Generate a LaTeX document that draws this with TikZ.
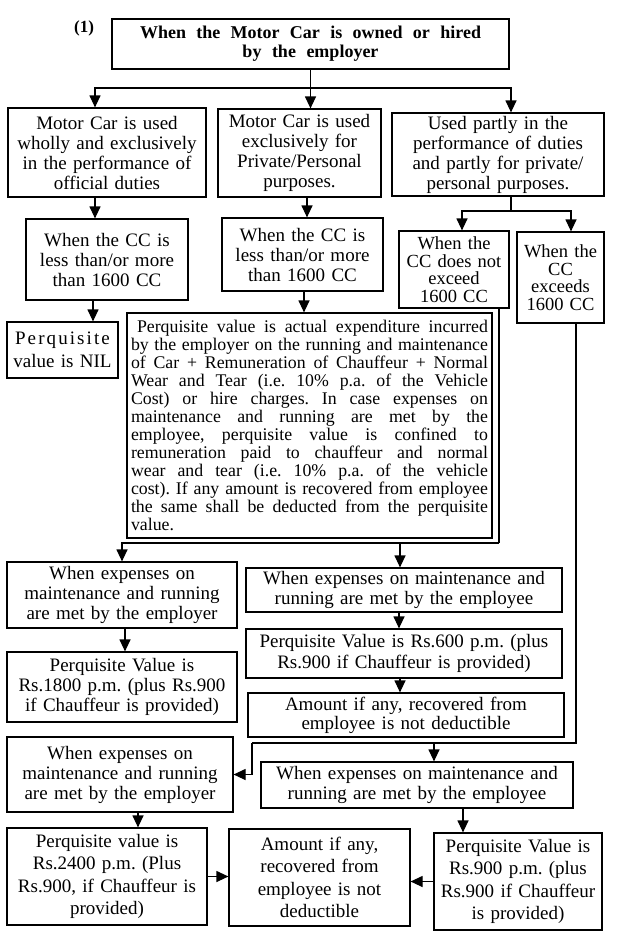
\documentclass[tikz,border=0pt]{standalone}
\usepackage{fontspec}
\setmainfont{Liberation Serif}
\usetikzlibrary{arrows.meta}
\frenchspacing
\begin{document}
\begin{tikzpicture}[x=1pt,y=-1pt,
  box/.style={draw, line width=1.2pt, align=center, inner sep=0pt, font=\frenchspacing\fontsize{19}{20}\selectfont},
  lead/.style={font=\frenchspacing\fontsize{19}{#1}\selectfont},
  arr/.style={line width=1.2pt, -{Triangle[length=12pt,width=11pt]}},
  ln/.style={line width=1.2pt}]
\useasboundingbox (0,0) rectangle (618,946);

\node[font=\bfseries\fontsize{17}{19}\selectfont] (num) at (84,28) {(1)};
\node[box, font=\bfseries\fontsize{18}{19}\selectfont, minimum width=397pt, minimum height=50pt, text width=389pt] (top) at (310.5,44)
  {\leavevmode\hbox to 341pt{When\hfill the\hfill Motor\hfill Car\hfill is\hfill owned\hfill or\hfill hired}\\
   \leavevmode\hbox to 136pt{by\hfill the\hfill employer}};

\node[box, minimum width=198pt, minimum height=89pt, text width=190pt] (l2a) at (107,152.5)
  {Motor Car is used\\wholly and exclusively\\in the performance of\\official duties};
\node[box, minimum width=163pt, minimum height=88pt, text width=155pt] (l2b) at (299.5,153)
  {Motor Car is used\\exclusively for\\Private/Personal\\purposes.};
\node[box, minimum width=212pt, minimum height=83pt, text width=204pt] (l2c) at (498,154.5)
  {Used partly in the\\performance of duties\\and partly for private/\\personal purposes.};

\node[box, minimum width=162pt, minimum height=81pt, text width=154pt] (l3a) at (107,259.5)
  {When the CC is\\less than/or more\\than 1600 CC};
\node[box, minimum width=161pt, minimum height=73pt, text width=153pt] (l3b) at (302.5,254.5)
  {When the CC is\\less than/or more\\than 1600 CC};
\node[box, font=\fontsize{18.5}{17.5}\selectfont, minimum width=110pt, minimum height=77pt, text width=104pt] (l3c) at (454,269.5)
  {When the\\CC does not\\exceed\\1600 CC};
\node[box, font=\fontsize{18.5}{17.5}\selectfont, minimum width=87pt, minimum height=91pt, text width=83pt] (l3d) at (560.5,277.5)
  {When the\\CC\\exceeds\\1600 CC};

\node[box, lead=23, minimum width=111pt, minimum height=56pt, text width=107pt] (nil) at (62.5,350)
  {{\addfontfeature{LetterSpace=11}Perquisite}\\value is NIL};

\node[box, align=justify, font=\frenchspacing\fontsize{17.8}{18}\selectfont, minimum width=365pt, minimum height=225pt, text width=357pt] (big) at (309.5,425.5)
  {\hspace*{6pt}Perquisite value is actual expenditure incurred\linebreak
   by the employer on the running and maintenance\linebreak
   of Car + Remuneration of Chauffeur + Normal\linebreak
   Wear and Tear (i.e. 10\% p.a. of the Vehicle\linebreak
   Cost) or hire charges. In case expenses on\linebreak
   maintenance and running are met by the\linebreak
   employee, perquisite value is confined to\linebreak
   remuneration paid to chauffeur and normal\linebreak
   wear and tear (i.e. 10\% p.a. of the vehicle\linebreak
   cost). If any amount is recovered from employee\linebreak
   the same shall be deducted from the perquisite\linebreak
   value.};

\node[box, minimum width=230pt, minimum height=66pt, text width=222pt] (r1) at (122,595)
  {When expenses on\\maintenance and running\\are met by the employer};
\node[box, minimum width=230pt, minimum height=70pt, text width=222pt] (p1800) at (122,687)
  {Perquisite Value is\\Rs.1800 p.m. (plus Rs.900\\if Chauffeur is provided)};
\node[box, minimum width=316pt, minimum height=44pt, text width=308pt] (e1) at (404,590)
  {When expenses on maintenance and\\running are met by the employee};
\node[box, lead=21.5, minimum width=316pt, minimum height=49pt, text width=308pt] (p600) at (404,653.5)
  {Perquisite Value is Rs.600 p.m. (plus\\Rs.900 if Chauffeur is provided)};
\node[box, lead=19, minimum width=316pt, minimum height=44pt, text width=308pt] (amt1) at (406,715)
  {Amount if any, recovered from\\employee is not deductible};

\node[box, minimum width=226pt, minimum height=75pt, text width=218pt] (r2) at (120,774.5)
  {When expenses on\\maintenance and running\\are met by the employer};
\node[box, minimum width=312pt, minimum height=46pt, text width=304pt] (e2) at (417,785)
  {When expenses on maintenance and\\running are met by the employee};

\node[box, lead=22.5, minimum width=200pt, minimum height=97pt, text width=194pt] (p2400) at (107,876.5)
  {Perquisite value is\\Rs.2400 p.m. (Plus\\Rs.900, if Chauffeur is\\provided)};
\node[box, lead=22.5, minimum width=181pt, minimum height=97pt, text width=173pt] (amt2) at (319.5,877.5)
  {Amount if any,\\recovered from\\employee is not\\deductible};
\node[box, lead=22.5, minimum width=168pt, minimum height=97pt, text width=164pt] (p900) at (518,881.5)
  {Perquisite Value is\\Rs.900 p.m. (plus\\Rs.900 if Chauffeur\\is provided)};

% connectors
\coordinate (bus) at (310,88);
\draw[arr] (top.south) -- (top.south |- l2b.north);
\draw[arr] (bus) -| ([xshift=-12pt]l2a.north);
\draw[arr] (bus) -| ([xshift=13pt]l2c.north);

\draw[arr] ([xshift=-12pt]l2a.south) -- ([xshift=-12pt]l2a.south |- l3a.north);
\draw[arr] ([xshift=7.5pt]l2b.south) -- ([xshift=7.5pt]l2b.south |- l3b.north);

\coordinate (bus2) at (511,211);
\draw[ln] ([xshift=13pt]l2c.south) -- (bus2);
\draw[arr] (bus2) -| ([xshift=8pt]l3c.north);
\draw[arr] (bus2) -| ([xshift=10.5pt]l3d.north);

\draw[arr] ([xshift=-14pt]l3a.south) -- ([xshift=-14pt]l3a.south |- nil.north);
\draw[arr] ([xshift=1.5pt]l3b.south) -- ([xshift=1.5pt]l3b.south |- big.north);

\coordinate (c1) at (499,543);
\draw[ln] ([xshift=45pt]l3c.south) -- (c1);
\draw[arr] (c1) -| (r1.north);
\draw[arr] ([xshift=-4pt]e1.north |- c1) -- ([xshift=-4pt]e1.north);

\draw[arr] ([xshift=3pt]r1.south) -- ([xshift=3pt]r1.south |- p1800.north);
\draw[arr] ([xshift=-5pt]e1.south) -- ([xshift=-5pt]e1.south |- p600.north);
\draw[arr] ([xshift=-4pt]p600.south) -- ([xshift=-4pt]p600.south |- amt1.north);

\coordinate (d1) at (576,743);
\coordinate (d2) at (252,743);
\draw[ln] ([xshift=15.5pt]l3d.south) -- (d1) -- (d2);
\draw[arr] (d2) |- (r2.east);
\draw[arr] ([xshift=17pt]e2.north |- d1) -- ([xshift=17pt]e2.north);

\draw[arr] ([xshift=18pt]r2.south) -- ([xshift=18pt]r2.south |- p2400.north);
\draw[arr] ([xshift=46pt]e2.south) -- ([xshift=46pt]e2.south |- p900.north);
\draw[arr] (p2400.east) -- (p2400.east -| amt2.west);
\draw[arr] (p900.west) -- (p900.west -| amt2.east);
\end{tikzpicture}
\end{document}
